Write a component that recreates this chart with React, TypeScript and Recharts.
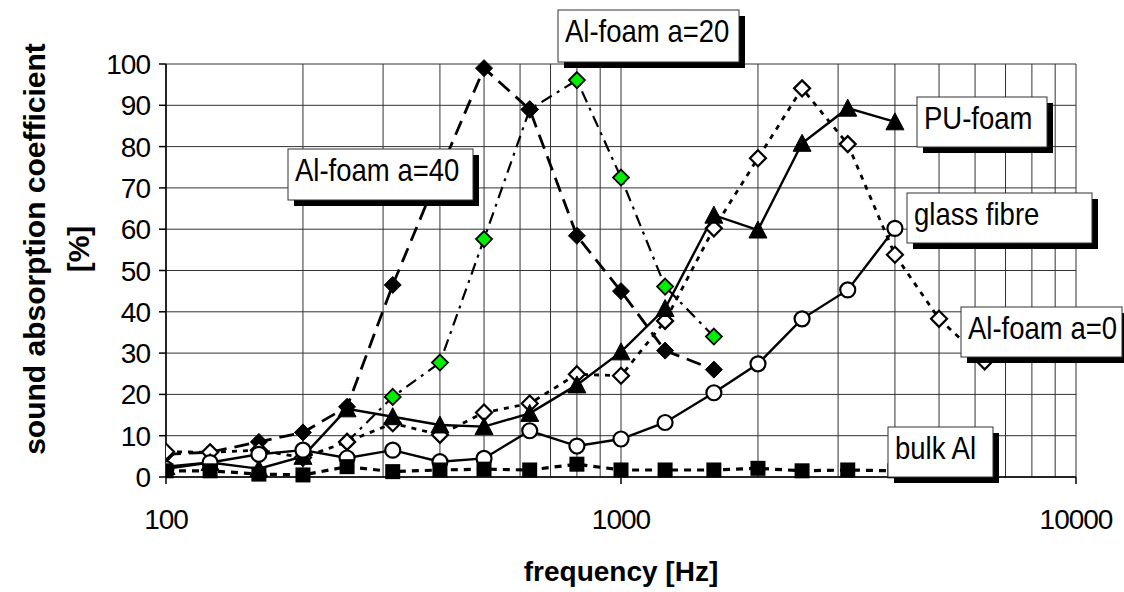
import React from "react";
import { LineChart, Line, XAxis, YAxis, CartesianGrid } from "recharts";

// ---- data ----
const freqs = [100, 125, 160, 200, 250, 315, 400, 500, 630, 800, 1000, 1250, 1600, 2000, 2500, 3150, 4000, 5000, 6300];
const alFoam40: (number | null)[] = [5.5, 6, 8.5, 10.8, 17, 46.5, 74, 99, 89, 58.4, 45, 30.6, 26, null, null, null, null, null, null];
const alFoam20: (number | null)[] = [null, null, null, null, 8.5, 19.4, 27.7, 57.6, 89, 96.1, 72.5, 46.1, 34, null, null, null, null, null, null];
const alFoam0: (number | null)[] = [6.1, 6, 6.5, 4.7, 8.5, 13, 10.2, 15.6, 17.8, 24.9, 24.5, 37.8, 60.2, 77.2, 94.1, 80.6, 53.8, 38.3, 28];
const puFoam: (number | null)[] = [2.5, 3.5, 2, 5, 16.5, 14.6, 12.6, 12.2, 15.4, 22.3, 30.3, 40.8, 63.4, 59.8, 80.8, 89.3, 86, null, null];
const glassFibre: (number | null)[] = [2, 3.5, 5.5, 6.5, 4.6, 6.5, 3.7, 4.5, 11.2, 7.5, 9.2, 13.2, 20.4, 27.4, 38.3, 45.3, 60.2, null, null];
const bulkAl: (number | null)[] = [1.5, 1.5, 0.7, 0.5, 2.5, 1.3, 1.7, 1.9, 1.7, 3.1, 1.7, 1.7, 1.7, 2.1, 1.5, 1.7, 1.5, null, null];

const xTicks = [100, 1000, 10000];
const xGrid = [100, 200, 300, 400, 500, 600, 700, 800, 900, 1000, 2000, 3000, 4000, 5000, 6000, 7000, 8000, 9000, 10000];
const yTicks = [0, 10, 20, 30, 40, 50, 60, 70, 80, 90, 100];

const seriesLabels = ["Al-foam a=40", "Al-foam a=20", "PU-foam", "glass fibre", "Al-foam a=0", "bulk Al"];
const yTitle = "sound absorption coefficient";
const yTitle2 = "[%]";
const xTitle = "frequency [Hz]";

const data = freqs.map((f, i) => ({
  f,
  a40: alFoam40[i],
  a20: alFoam20[i],
  a0: alFoam0[i],
  pu: puFoam[i],
  gf: glassFibre[i],
  bulk: bulkAl[i],
}));

const FONT = "'Liberation Sans', Arial, Helvetica, sans-serif";

// annotation boxes (layout)
const boxes = [
  { label: seriesLabels[0], x: 288, y: 149, w: 185, h: 51 },
  { label: seriesLabels[1], x: 558, y: 10, w: 181, h: 52 },
  { label: seriesLabels[2], x: 917, y: 97, w: 130, h: 50 },
  { label: seriesLabels[3], x: 907, y: 193, w: 185, h: 50 },
  { label: seriesLabels[4], x: 961, y: 307, w: 161, h: 50 },
  { label: seriesLabels[5], x: 888, y: 427, w: 105, h: 50 },
];

type Shape = "diamondBlack" | "diamondGreen" | "diamondWhite" | "triangle" | "circle" | "square";

const makeDot = (shape: Shape) => (props: any) => {
  const { cx, cy, index, value } = props;
  if (cx == null || cy == null || value == null || Number.isNaN(cy)) return <g key={`d-${shape}-${index}`} />;
  const k = `d-${shape}-${index}`;
  switch (shape) {
    case "diamondBlack": {
      const s = 8.5;
      return <polygon key={k} points={`${cx},${cy - s} ${cx + s},${cy} ${cx},${cy + s} ${cx - s},${cy}`} fill="#000" stroke="#000" strokeWidth={1} />;
    }
    case "diamondGreen": {
      const s = 8;
      return <polygon key={k} points={`${cx},${cy - s} ${cx + s},${cy} ${cx},${cy + s} ${cx - s},${cy}`} fill="#00ee00" stroke="#000" strokeWidth={1.8} />;
    }
    case "diamondWhite": {
      const s = 8;
      return <polygon key={k} points={`${cx},${cy - s} ${cx + s},${cy} ${cx},${cy + s} ${cx - s},${cy}`} fill="#fff" stroke="#000" strokeWidth={2.2} />;
    }
    case "triangle": {
      const w = 9, h = 9;
      return <polygon key={k} points={`${cx},${cy - h} ${cx + w},${cy + h - 1} ${cx - w},${cy + h - 1}`} fill="#000" stroke="#000" strokeWidth={1} />;
    }
    case "circle":
      return <circle key={k} cx={cx} cy={cy} r={7.5} fill="#fff" stroke="#000" strokeWidth={2.2} />;
    case "square":
      return <rect key={k} x={cx - 7.5} y={cy - 7.5} width={15} height={15} fill="#000" />;
  }
  return <g key={k} />;
};

const YTick = (props: any) => {
  const { x, y, payload } = props;
  return (
    <text x={x} y={y} dy="0.36em" textAnchor="end" fontSize={28} fontFamily={FONT} fill="#000" style={{ letterSpacing: -1 }}>
      {payload.value}
    </text>
  );
};

const XTick = (props: any) => {
  const { x, y, payload } = props;
  return (
    <text x={x} y={y} dy="0.71em" textAnchor="middle" fontSize={28} fontFamily={FONT} fill="#000" style={{ letterSpacing: -1 }}>
      {payload.value}
    </text>
  );
};

const PLOT_LEFT = 166;
const PLOT_RIGHT = 1076;

const vGen = (props: any) => {
  const xAxis = props?.xAxis;
  if (xAxis && typeof xAxis.scale === "function") {
    return xGrid.map((f) => xAxis.scale(f));
  }
  const off = props?.offset ?? { left: PLOT_LEFT, width: PLOT_RIGHT - PLOT_LEFT };
  return xGrid.map((f) => off.left + (off.width * Math.log10(f / 100)) / 2);
};

export default function App() {
  return (
    <div style={{ position: "absolute", left: 0, top: 0, width: 1124, height: 592, background: "#fff" }}>
      <LineChart width={1124} height={592} data={data} margin={{ top: 64, right: 48, bottom: 55, left: 0 }}>
        <CartesianGrid stroke="#333" strokeWidth={1} verticalCoordinatesGenerator={vGen} />
        <XAxis
          dataKey="f"
          type="number"
          scale="log"
          domain={[100, 10000]}
          ticks={xTicks}
          allowDataOverflow
          height={60}
          tickSize={7}
          tickMargin={25}
          tick={<XTick />}
          axisLine={{ stroke: "#000", strokeWidth: 1.5 }}
          tickLine={{ stroke: "#000", strokeWidth: 1.5 }}
        />
        <YAxis
          type="number"
          domain={[0, 100]}
          ticks={yTicks}
          interval={0}
          width={166}
          tickSize={7}
          tickMargin={9}
          tick={<YTick />}
          axisLine={{ stroke: "#000", strokeWidth: 1.5 }}
          tickLine={{ stroke: "#000", strokeWidth: 1.5 }}
        />
        <Line dataKey="a20" type="linear" stroke="#000" strokeWidth={2.2} strokeDasharray="12 6 3 6" dot={makeDot("diamondGreen")} activeDot={false} isAnimationActive={false} />
        <Line dataKey="a40" type="linear" stroke="#000" strokeWidth={2.8} strokeDasharray="15 8" dot={makeDot("diamondBlack")} activeDot={false} isAnimationActive={false} />
        <Line dataKey="a0" type="linear" stroke="#000" strokeWidth={2.8} strokeDasharray="5 6" dot={makeDot("diamondWhite")} activeDot={false} isAnimationActive={false} />
        <Line dataKey="pu" type="linear" stroke="#000" strokeWidth={2.4} dot={makeDot("triangle")} activeDot={false} isAnimationActive={false} />
        <Line dataKey="gf" type="linear" stroke="#000" strokeWidth={2.4} dot={makeDot("circle")} activeDot={false} isAnimationActive={false} />
        <Line dataKey="bulk" type="linear" stroke="#000" strokeWidth={3.2} strokeDasharray="7 6" dot={makeDot("square")} activeDot={false} isAnimationActive={false} />
      </LineChart>
      <svg width={1124} height={592} style={{ position: "absolute", left: 0, top: 0, pointerEvents: "none" }}>
        {boxes.map((b) => (
          <g key={b.label}>
            <rect x={b.x + 6} y={b.y + 6} width={b.w} height={b.h} fill="#000" />
            <rect x={b.x} y={b.y} width={b.w} height={b.h} fill="#fff" stroke="#333" strokeWidth={1} />
            <text
              transform={`translate(${b.x + 7},${b.y + 32}) scale(0.86,1)`}
              fontSize={32}
              fontFamily={FONT}
              fill="#000"
            >
              {b.label}
            </text>
          </g>
        ))}
        <text
          transform="translate(34,249) rotate(-90)"
          textAnchor="middle"
          dominantBaseline="central"
          fontSize={30}
          fontWeight="bold"
          fontFamily={FONT}
          fill="#000"
        >
          {yTitle}
        </text>
        <text
          transform="translate(78,249) rotate(-90)"
          textAnchor="middle"
          dominantBaseline="central"
          fontSize={30}
          fontWeight="bold"
          fontFamily={FONT}
          fill="#000"
        >
          {yTitle2}
        </text>
        <text x={621} y={581} textAnchor="middle" fontSize={28} fontWeight="bold" fontFamily={FONT} fill="#000">
          {xTitle}
        </text>
      </svg>
    </div>
  );
}
